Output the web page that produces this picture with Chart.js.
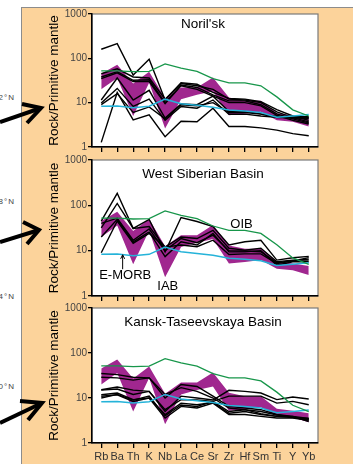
<!DOCTYPE html>
<html lang="en">
<head>
<meta charset="utf-8" />
<title>Trace element spider diagrams</title>
<style>
  html, body { margin: 0; padding: 0; }
  body { width: 353px; height: 464px; overflow: hidden; position: relative; background: #fff;
         font-family: "Liberation Sans", Arial, sans-serif; }
  #frame { position: absolute; left: 21px; top: 7px; width: 340px; height: 470px; background: #fcd39b;
           border-left: 1px solid #8c8c8c; border-top: 1px solid #8c8c8c; }
  .lat { position: absolute; right: 338px; font-size: 8px; letter-spacing: 1px; color: #444; white-space: nowrap; }
  canvas.panel { position: absolute; left: 30px; }
  #arrows { position: absolute; left: 0; top: 0; }
</style>
</head>
<body>
  <div id="frame"></div>
  <div class="lat" style="top:93px">72°N</div>
  <div class="lat" style="top:197px">68°N</div>
  <div class="lat" style="top:292px">64°N</div>
  <div class="lat" style="top:382px">60°N</div>
  <svg id="arrows" width="60" height="464">
    <g fill="none" stroke="#000" stroke-width="4">
      <path d="M0,122 L41,108" /><path d="M22,104 L41,108 L27,123" />
      <path d="M0,242 L39,230" /><path d="M23,222 L39,230 L27,244" />
      <path d="M0,423 L42,403" /><path d="M20,401 L42,403 L28,420" />
    </g>
  </svg>

  <canvas id="noril" class="panel" width="300" height="151" style="top:6px"></canvas>
  <canvas id="wsb" class="panel" width="300" height="154" style="top:152px"></canvas>
  <canvas id="ktb" class="panel" width="300" height="163" style="top:300px"></canvas>

  <script src="https://cdn.jsdelivr.net/npm/chart.js"></script>
  <script>
    const categories = ['Rb', 'Ba', 'Th', 'K', 'Nb', 'La', 'Ce', 'Sr', 'Zr', 'Hf', 'Sm', 'Ti', 'Y', 'Yb'];
    const yTicks = [1, 10, 100, 1000];

    // reference compositions (same in every panel)
    const oib = [52, 52, 50, 51, 75, 60, 51, 35, 28, 28, 24, 13.5, 6.9, 5];
    const emorb = [8.3, 8.4, 7.7, 8.3, 12, 9.5, 8.7, 7.9, 6.8, 6.5, 6.0, 4.7, 5.0, 5.4];
    const iabUpper = [45, 72, 27, 50, 12.5, 22, 22, 37, 13, 11, 11, 5.8, 5.2, 4.6];
    const iabLower = [20, 36, 5, 28, 2.6, 12, 15, 18, 5.2, 5.6, 6.2, 4.0, 3.7, 2.9];

    // samples, Noril'sk
    const norilsk = [
      [160, 215, 42, 95, 11.5, 28, 26, 17, 12.5, 12, 10.5, 7, 5, 4],
      [45, 58, 38, 36, 12, 27, 24, 20, 12, 11.5, 10, 6.2, 4.6, 3.7],
      [38, 50, 32, 33, 10, 25, 22, 15, 11, 11, 9, 5.6, 4.3, 3.5],
      [35, 47, 30, 30, 9.5, 24, 20, 14, 10, 10, 8.5, 5.2, 4.0, 3.3],
      [11.5, 36, 11.5, 19, 4.5, 9.3, 9, 14, 6.3, 6.3, 5.6, 4.9, 4.6, 4.4],
      [9.8, 21, 8.2, 12, 4, 8.2, 7.5, 11.5, 5.5, 5.5, 5, 4.7, 4.5, 4.6],
      [9, 16, 6, 8, 4.3, 9, 8.5, 10, 6, 6, 5.5, 4.6, 4.8, 4.8],
      [1.27, 17, 4.1, 5.3, 1.7, 3.8, 3.7, 7.5, 2.9, 2.9, 2.7, 2.4, 2.0, 1.8]
    ];

    // samples, West Siberian Basin
    const westSiberian = [
      [45, 184, 31, 49, 9.4, 54, 44, 34, 13.3, 15.7, 17, 6.2, 7, 7.5],
      [32, 110, 31, 34, 12, 20, 18.5, 28, 11.3, 10.3, 11.3, 5.7, 6.2, 6.2],
      [20, 49, 15.7, 26, 7.4, 15.7, 13.3, 24, 9.4, 9.4, 10, 4.8, 5.7, 5.7],
      [9, 45, 14.6, 24, 12, 13.3, 12.2, 17, 8.2, 8.5, 8.5, 5.2, 5.9, 7],
      [40, 52, 17, 30, 10, 18.5, 15, 22, 10, 9.8, 9.5, 5.4, 6, 6.5]
    ];

    // samples, Kansk-Taseevskaya Basin
    const kanskTaseevskaya = [
      [35, 33, 29, 28, 10, 20, 18, 11, 6.5, 6, 5.5, 4.3, 3.9, 3.5],
      [29, 28, 25, 28, 12, 17, 14, 10, 6, 5.5, 5, 4.2, 3.8, 3.3],
      [15.3, 17.5, 15, 14, 5, 11, 10, 9, 14.8, 14, 12.9, 9.2, 10.5, 9.5],
      [15, 15.8, 12, 14, 5.5, 9.2, 9, 8.4, 11, 11, 11, 7.7, 8.4, 7.1],
      [11.8, 12.9, 9.2, 10, 4.3, 7.7, 7.1, 8, 4.6, 5, 4.3, 3.9, 3.9, 3.0],
      [10.9, 11.8, 8.4, 10, 3.6, 6.5, 6, 7.7, 4.3, 4.3, 3.9, 3.6, 3.6, 3.2],
      [10, 12, 9, 11, 4, 7, 6.5, 8.4, 5, 5.5, 4.5, 3.9, 3.7, 3.5]
    ];

    const FONT = '"Liberation Sans", Arial, sans-serif';

    function pts(values) {
      return values.map((v, i) => ({ x: i, y: v }));
    }

    // white plot box, grey frame, titles and labels drawn on the canvas
    const panelDecor = {
      id: 'panelDecor',
      beforeDraw(chart, args, opts) {
        const { ctx, chartArea: a } = chart;
        ctx.save();
        ctx.fillStyle = '#fff';
        ctx.fillRect(a.left, a.top, a.right - a.left, a.bottom - a.top);
        ctx.strokeStyle = '#7a7a7a';
        ctx.lineWidth = 1.2;
        ctx.strokeRect(a.left, a.top, a.right - a.left, a.bottom - a.top);
        ctx.restore();
      },
      afterDraw(chart, args, opts) {
        const { ctx, chartArea: a, scales } = chart;
        ctx.save();
        ctx.fillStyle = '#000';
        ctx.textAlign = 'center';
        ctx.textBaseline = 'middle';
        ctx.font = '13.5px ' + FONT;
        ctx.fillText(opts.title, (a.left + a.right) / 2 - 2, a.top + opts.titleOffset);

        ctx.translate(a.left - 38, (a.top + a.bottom) / 2);
        ctx.rotate(-Math.PI / 2);
        ctx.fillText('Rock/Primitive mantle', 0, 0);
        ctx.restore();

        if (opts.notes) {
          const x = scales.x, y = scales.y;
          ctx.save();
          ctx.fillStyle = '#000';
          ctx.textAlign = 'center';
          ctx.textBaseline = 'middle';
          ctx.font = '13px ' + FONT;
          ctx.fillText('OIB', x.getPixelForValue(8.79), y.getPixelForValue(38));
          ctx.fillText('E-MORB', x.getPixelForValue(1.5), y.getPixelForValue(2.87));
          ctx.fillText('IAB', x.getPixelForValue(4.17), y.getPixelForValue(1.64));
          const ax = x.getPixelForValue(1.34);
          const y0 = y.getPixelForValue(3.9), y1 = y.getPixelForValue(8.1);
          ctx.strokeStyle = '#000';
          ctx.lineWidth = 1;
          ctx.beginPath();
          ctx.moveTo(ax, y0);
          ctx.lineTo(ax, y1);
          ctx.moveTo(ax - 2, y1 + 4);
          ctx.lineTo(ax, y1);
          ctx.lineTo(ax + 2, y1 + 4);
          ctx.stroke();
          ctx.restore();
        }
      }
    };

    function makePanel(id, title, titleOffset, samples, showLabels, xHeight, notes) {
      const datasets = [
        { data: pts(iabUpper), fill: '+1', backgroundColor: '#a0278f', borderWidth: 0, order: 3 },
        { data: pts(iabLower), fill: false, borderWidth: 0, order: 3 }
      ];
      samples.forEach(s => {
        datasets.push({ data: pts(s), borderColor: '#000', borderWidth: 1.4, fill: false, order: 2 });
      });
      datasets.push({ data: pts(oib), borderColor: '#17964a', borderWidth: 1.3, fill: false, order: 1 });
      datasets.push({ data: pts(emorb), borderColor: '#25b3d9', borderWidth: 1.5, fill: false, order: 1 });

      return new Chart(document.getElementById(id), {
        type: 'line',
        data: { datasets },
        plugins: [panelDecor],
        options: {
          responsive: false,
          animation: false,
          devicePixelRatio: 1,
          events: [],
          layout: { padding: { top: 8, right: 12, left: 0, bottom: 0 } },
          elements: { point: { radius: 0 }, line: { tension: 0 } },
          plugins: {
            legend: { display: false },
            tooltip: { enabled: false },
            panelDecor: { title, titleOffset, notes }
          },
          scales: {
            x: {
              type: 'linear',
              min: -0.58,
              max: 13.58,
              afterBuildTicks: s => { s.ticks = categories.map((c, i) => ({ value: i })); },
              afterFit: s => { s.height = xHeight; },
              ticks: {
                autoSkip: false,
                maxRotation: 0,
                padding: 2,
                color: '#333',
                font: { family: FONT, size: 11 },
                callback: v => showLabels ? categories[v] : ''
              },
              grid: { drawOnChartArea: false, drawTicks: true, tickLength: 5, color: '#000', lineWidth: 1.3 },
              border: { color: '#000', width: 1.5 }
            },
            y: {
              type: 'logarithmic',
              min: 1,
              max: 1000,
              afterBuildTicks: s => { s.ticks = yTicks.map(v => ({ value: v })); },
              afterFit: s => { s.width = 62; },
              ticks: {
                padding: 1,
                color: '#444',
                font: { family: FONT, size: 10 },
                callback: v => String(v)
              },
              grid: { drawOnChartArea: false, drawTicks: true, tickLength: 4, color: '#000', lineWidth: 1.3 },
              border: { color: '#000', width: 1.5 }
            }
          }
        }
      });
    }

    makePanel('noril', "Noril'sk", 10, norilsk, false, 10, false);
    makePanel('wsb', 'West Siberian Basin', 14, westSiberian, false, 10, true);
    makePanel('ktb', 'Kansk-Taseevskaya Basin', 14.5, kanskTaseevskaya, true, 20, false);
  </script>
</body>
</html>
